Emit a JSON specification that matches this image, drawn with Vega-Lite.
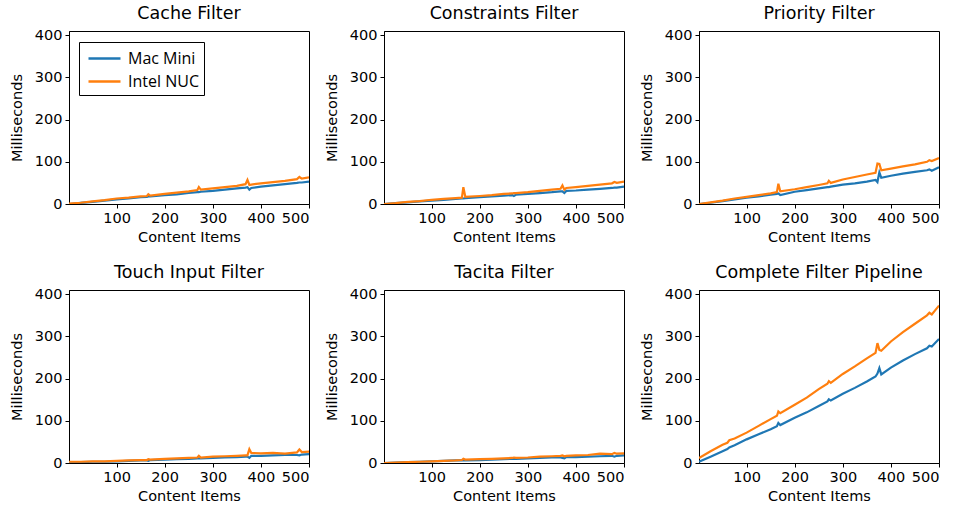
{
  "$schema": "https://vega.github.io/schema/vega-lite/v6.json",
  "padding": {"left": 8, "top": 4, "right": 5, "bottom": 5},
  "datasets": {
    "d": [
      {"panel":"Cache Filter","x":1,"Mac Mini":0,"Intel NUC":1},
      {"panel":"Cache Filter","x":25,"Mac Mini":2.5,"Intel NUC":3},
      {"panel":"Cache Filter","x":50,"Mac Mini":5,"Intel NUC":6},
      {"panel":"Cache Filter","x":75,"Mac Mini":8,"Intel NUC":9},
      {"panel":"Cache Filter","x":100,"Mac Mini":11,"Intel NUC":13},
      {"panel":"Cache Filter","x":125,"Mac Mini":13,"Intel NUC":15},
      {"panel":"Cache Filter","x":150,"Mac Mini":16,"Intel NUC":18},
      {"panel":"Cache Filter","x":163,"Mac Mini":17,"Intel NUC":19},
      {"panel":"Cache Filter","x":166,"Mac Mini":18,"Intel NUC":23},
      {"panel":"Cache Filter","x":170,"Mac Mini":18,"Intel NUC":20},
      {"panel":"Cache Filter","x":200,"Mac Mini":21,"Intel NUC":24},
      {"panel":"Cache Filter","x":225,"Mac Mini":23,"Intel NUC":27},
      {"panel":"Cache Filter","x":250,"Mac Mini":26,"Intel NUC":30},
      {"panel":"Cache Filter","x":268,"Mac Mini":28,"Intel NUC":33},
      {"panel":"Cache Filter","x":271,"Mac Mini":28,"Intel NUC":40},
      {"panel":"Cache Filter","x":275,"Mac Mini":29,"Intel NUC":34},
      {"panel":"Cache Filter","x":300,"Mac Mini":31,"Intel NUC":37},
      {"panel":"Cache Filter","x":325,"Mac Mini":34,"Intel NUC":40},
      {"panel":"Cache Filter","x":350,"Mac Mini":37,"Intel NUC":43},
      {"panel":"Cache Filter","x":368,"Mac Mini":39,"Intel NUC":47},
      {"panel":"Cache Filter","x":372,"Mac Mini":40,"Intel NUC":57},
      {"panel":"Cache Filter","x":376,"Mac Mini":34,"Intel NUC":45},
      {"panel":"Cache Filter","x":380,"Mac Mini":38,"Intel NUC":46},
      {"panel":"Cache Filter","x":400,"Mac Mini":41,"Intel NUC":49},
      {"panel":"Cache Filter","x":425,"Mac Mini":44,"Intel NUC":52},
      {"panel":"Cache Filter","x":450,"Mac Mini":47,"Intel NUC":55},
      {"panel":"Cache Filter","x":475,"Mac Mini":50,"Intel NUC":59},
      {"panel":"Cache Filter","x":480,"Mac Mini":51,"Intel NUC":64},
      {"panel":"Cache Filter","x":485,"Mac Mini":51,"Intel NUC":60},
      {"panel":"Cache Filter","x":500,"Mac Mini":53,"Intel NUC":63},

      {"panel":"Constraints Filter","x":1,"Mac Mini":0,"Intel NUC":0},
      {"panel":"Constraints Filter","x":25,"Mac Mini":2,"Intel NUC":2},
      {"panel":"Constraints Filter","x":50,"Mac Mini":4,"Intel NUC":5},
      {"panel":"Constraints Filter","x":75,"Mac Mini":6,"Intel NUC":7},
      {"panel":"Constraints Filter","x":100,"Mac Mini":8,"Intel NUC":10},
      {"panel":"Constraints Filter","x":125,"Mac Mini":10,"Intel NUC":12},
      {"panel":"Constraints Filter","x":150,"Mac Mini":12,"Intel NUC":14},
      {"panel":"Constraints Filter","x":163,"Mac Mini":13,"Intel NUC":15},
      {"panel":"Constraints Filter","x":166,"Mac Mini":13,"Intel NUC":40},
      {"panel":"Constraints Filter","x":170,"Mac Mini":14,"Intel NUC":17},
      {"panel":"Constraints Filter","x":200,"Mac Mini":16,"Intel NUC":19},
      {"panel":"Constraints Filter","x":225,"Mac Mini":18,"Intel NUC":21},
      {"panel":"Constraints Filter","x":250,"Mac Mini":20,"Intel NUC":24},
      {"panel":"Constraints Filter","x":268,"Mac Mini":21,"Intel NUC":25},
      {"panel":"Constraints Filter","x":271,"Mac Mini":19,"Intel NUC":26},
      {"panel":"Constraints Filter","x":275,"Mac Mini":22,"Intel NUC":26},
      {"panel":"Constraints Filter","x":300,"Mac Mini":24,"Intel NUC":28},
      {"panel":"Constraints Filter","x":325,"Mac Mini":26,"Intel NUC":31},
      {"panel":"Constraints Filter","x":350,"Mac Mini":28,"Intel NUC":34},
      {"panel":"Constraints Filter","x":368,"Mac Mini":30,"Intel NUC":36},
      {"panel":"Constraints Filter","x":372,"Mac Mini":30,"Intel NUC":44},
      {"panel":"Constraints Filter","x":376,"Mac Mini":26,"Intel NUC":34},
      {"panel":"Constraints Filter","x":380,"Mac Mini":31,"Intel NUC":38},
      {"panel":"Constraints Filter","x":400,"Mac Mini":32,"Intel NUC":40},
      {"panel":"Constraints Filter","x":425,"Mac Mini":34,"Intel NUC":43},
      {"panel":"Constraints Filter","x":450,"Mac Mini":36,"Intel NUC":46},
      {"panel":"Constraints Filter","x":475,"Mac Mini":38,"Intel NUC":49},
      {"panel":"Constraints Filter","x":480,"Mac Mini":39,"Intel NUC":52},
      {"panel":"Constraints Filter","x":485,"Mac Mini":39,"Intel NUC":50},
      {"panel":"Constraints Filter","x":500,"Mac Mini":41,"Intel NUC":53},

      {"panel":"Priority Filter","x":1,"Mac Mini":0,"Intel NUC":0},
      {"panel":"Priority Filter","x":25,"Mac Mini":3,"Intel NUC":4},
      {"panel":"Priority Filter","x":50,"Mac Mini":7,"Intel NUC":8},
      {"panel":"Priority Filter","x":75,"Mac Mini":11,"Intel NUC":13},
      {"panel":"Priority Filter","x":100,"Mac Mini":15,"Intel NUC":17},
      {"panel":"Priority Filter","x":125,"Mac Mini":18,"Intel NUC":21},
      {"panel":"Priority Filter","x":150,"Mac Mini":22,"Intel NUC":25},
      {"panel":"Priority Filter","x":163,"Mac Mini":24,"Intel NUC":28},
      {"panel":"Priority Filter","x":166,"Mac Mini":25,"Intel NUC":48},
      {"panel":"Priority Filter","x":170,"Mac Mini":21,"Intel NUC":30},
      {"panel":"Priority Filter","x":200,"Mac Mini":29,"Intel NUC":35},
      {"panel":"Priority Filter","x":225,"Mac Mini":33,"Intel NUC":40},
      {"panel":"Priority Filter","x":250,"Mac Mini":37,"Intel NUC":45},
      {"panel":"Priority Filter","x":268,"Mac Mini":40,"Intel NUC":49},
      {"panel":"Priority Filter","x":271,"Mac Mini":40,"Intel NUC":55},
      {"panel":"Priority Filter","x":275,"Mac Mini":41,"Intel NUC":50},
      {"panel":"Priority Filter","x":300,"Mac Mini":46,"Intel NUC":58},
      {"panel":"Priority Filter","x":325,"Mac Mini":49,"Intel NUC":64},
      {"panel":"Priority Filter","x":350,"Mac Mini":53,"Intel NUC":70},
      {"panel":"Priority Filter","x":368,"Mac Mini":57,"Intel NUC":74},
      {"panel":"Priority Filter","x":372,"Mac Mini":52,"Intel NUC":96},
      {"panel":"Priority Filter","x":376,"Mac Mini":75,"Intel NUC":95},
      {"panel":"Priority Filter","x":380,"Mac Mini":62,"Intel NUC":80},
      {"panel":"Priority Filter","x":400,"Mac Mini":67,"Intel NUC":84},
      {"panel":"Priority Filter","x":425,"Mac Mini":72,"Intel NUC":89},
      {"panel":"Priority Filter","x":450,"Mac Mini":76,"Intel NUC":94},
      {"panel":"Priority Filter","x":475,"Mac Mini":80,"Intel NUC":100},
      {"panel":"Priority Filter","x":480,"Mac Mini":82,"Intel NUC":104},
      {"panel":"Priority Filter","x":485,"Mac Mini":79,"Intel NUC":102},
      {"panel":"Priority Filter","x":500,"Mac Mini":87,"Intel NUC":109},

      {"panel":"Touch Input Filter","x":1,"Mac Mini":2,"Intel NUC":3},
      {"panel":"Touch Input Filter","x":25,"Mac Mini":2,"Intel NUC":3},
      {"panel":"Touch Input Filter","x":50,"Mac Mini":3,"Intel NUC":4},
      {"panel":"Touch Input Filter","x":75,"Mac Mini":3,"Intel NUC":4},
      {"panel":"Touch Input Filter","x":100,"Mac Mini":4,"Intel NUC":5},
      {"panel":"Touch Input Filter","x":125,"Mac Mini":5,"Intel NUC":6},
      {"panel":"Touch Input Filter","x":150,"Mac Mini":6,"Intel NUC":7},
      {"panel":"Touch Input Filter","x":163,"Mac Mini":6,"Intel NUC":7},
      {"panel":"Touch Input Filter","x":166,"Mac Mini":5,"Intel NUC":9},
      {"panel":"Touch Input Filter","x":170,"Mac Mini":7,"Intel NUC":8},
      {"panel":"Touch Input Filter","x":200,"Mac Mini":8,"Intel NUC":10},
      {"panel":"Touch Input Filter","x":225,"Mac Mini":9,"Intel NUC":11},
      {"panel":"Touch Input Filter","x":250,"Mac Mini":10,"Intel NUC":12},
      {"panel":"Touch Input Filter","x":268,"Mac Mini":11,"Intel NUC":13},
      {"panel":"Touch Input Filter","x":271,"Mac Mini":11,"Intel NUC":17},
      {"panel":"Touch Input Filter","x":275,"Mac Mini":11,"Intel NUC":13},
      {"panel":"Touch Input Filter","x":300,"Mac Mini":12,"Intel NUC":15},
      {"panel":"Touch Input Filter","x":325,"Mac Mini":13,"Intel NUC":16},
      {"panel":"Touch Input Filter","x":350,"Mac Mini":14,"Intel NUC":17},
      {"panel":"Touch Input Filter","x":368,"Mac Mini":15,"Intel NUC":18},
      {"panel":"Touch Input Filter","x":372,"Mac Mini":15,"Intel NUC":18},
      {"panel":"Touch Input Filter","x":376,"Mac Mini":12,"Intel NUC":33},
      {"panel":"Touch Input Filter","x":380,"Mac Mini":17,"Intel NUC":24},
      {"panel":"Touch Input Filter","x":400,"Mac Mini":17,"Intel NUC":23},
      {"panel":"Touch Input Filter","x":425,"Mac Mini":18,"Intel NUC":24},
      {"panel":"Touch Input Filter","x":450,"Mac Mini":19,"Intel NUC":22},
      {"panel":"Touch Input Filter","x":475,"Mac Mini":19,"Intel NUC":25},
      {"panel":"Touch Input Filter","x":480,"Mac Mini":18,"Intel NUC":32},
      {"panel":"Touch Input Filter","x":485,"Mac Mini":20,"Intel NUC":26},
      {"panel":"Touch Input Filter","x":500,"Mac Mini":21,"Intel NUC":27},

      {"panel":"Tacita Filter","x":1,"Mac Mini":0,"Intel NUC":0},
      {"panel":"Tacita Filter","x":25,"Mac Mini":1,"Intel NUC":1},
      {"panel":"Tacita Filter","x":50,"Mac Mini":2,"Intel NUC":2},
      {"panel":"Tacita Filter","x":75,"Mac Mini":3,"Intel NUC":3},
      {"panel":"Tacita Filter","x":100,"Mac Mini":4,"Intel NUC":4},
      {"panel":"Tacita Filter","x":125,"Mac Mini":5,"Intel NUC":5},
      {"panel":"Tacita Filter","x":150,"Mac Mini":6,"Intel NUC":6},
      {"panel":"Tacita Filter","x":163,"Mac Mini":6,"Intel NUC":7},
      {"panel":"Tacita Filter","x":166,"Mac Mini":6,"Intel NUC":10},
      {"panel":"Tacita Filter","x":170,"Mac Mini":6,"Intel NUC":8},
      {"panel":"Tacita Filter","x":200,"Mac Mini":7,"Intel NUC":9},
      {"panel":"Tacita Filter","x":225,"Mac Mini":8,"Intel NUC":10},
      {"panel":"Tacita Filter","x":250,"Mac Mini":9,"Intel NUC":11},
      {"panel":"Tacita Filter","x":268,"Mac Mini":10,"Intel NUC":12},
      {"panel":"Tacita Filter","x":271,"Mac Mini":10,"Intel NUC":13},
      {"panel":"Tacita Filter","x":275,"Mac Mini":10,"Intel NUC":12},
      {"panel":"Tacita Filter","x":300,"Mac Mini":11,"Intel NUC":13},
      {"panel":"Tacita Filter","x":325,"Mac Mini":12,"Intel NUC":15},
      {"panel":"Tacita Filter","x":350,"Mac Mini":13,"Intel NUC":16},
      {"panel":"Tacita Filter","x":368,"Mac Mini":13,"Intel NUC":17},
      {"panel":"Tacita Filter","x":372,"Mac Mini":12,"Intel NUC":18},
      {"panel":"Tacita Filter","x":376,"Mac Mini":11,"Intel NUC":16},
      {"panel":"Tacita Filter","x":380,"Mac Mini":14,"Intel NUC":17},
      {"panel":"Tacita Filter","x":400,"Mac Mini":14,"Intel NUC":18},
      {"panel":"Tacita Filter","x":425,"Mac Mini":15,"Intel NUC":19},
      {"panel":"Tacita Filter","x":450,"Mac Mini":16,"Intel NUC":22},
      {"panel":"Tacita Filter","x":475,"Mac Mini":17,"Intel NUC":21},
      {"panel":"Tacita Filter","x":480,"Mac Mini":15,"Intel NUC":24},
      {"panel":"Tacita Filter","x":485,"Mac Mini":17,"Intel NUC":22},
      {"panel":"Tacita Filter","x":500,"Mac Mini":18,"Intel NUC":23},

      {"panel":"Complete Filter Pipeline","x":1,"Mac Mini":3,"Intel NUC":12},
      {"panel":"Complete Filter Pipeline","x":25,"Mac Mini":15,"Intel NUC":28},
      {"panel":"Complete Filter Pipeline","x":50,"Mac Mini":28,"Intel NUC":43},
      {"panel":"Complete Filter Pipeline","x":60,"Mac Mini":33,"Intel NUC":48},
      {"panel":"Complete Filter Pipeline","x":64,"Mac Mini":37,"Intel NUC":54},
      {"panel":"Complete Filter Pipeline","x":75,"Mac Mini":42,"Intel NUC":58},
      {"panel":"Complete Filter Pipeline","x":100,"Mac Mini":56,"Intel NUC":72},
      {"panel":"Complete Filter Pipeline","x":125,"Mac Mini":68,"Intel NUC":88},
      {"panel":"Complete Filter Pipeline","x":150,"Mac Mini":80,"Intel NUC":104},
      {"panel":"Complete Filter Pipeline","x":163,"Mac Mini":87,"Intel NUC":112},
      {"panel":"Complete Filter Pipeline","x":166,"Mac Mini":95,"Intel NUC":122},
      {"panel":"Complete Filter Pipeline","x":170,"Mac Mini":90,"Intel NUC":118},
      {"panel":"Complete Filter Pipeline","x":200,"Mac Mini":107,"Intel NUC":138},
      {"panel":"Complete Filter Pipeline","x":225,"Mac Mini":120,"Intel NUC":155},
      {"panel":"Complete Filter Pipeline","x":250,"Mac Mini":135,"Intel NUC":175},
      {"panel":"Complete Filter Pipeline","x":268,"Mac Mini":146,"Intel NUC":188},
      {"panel":"Complete Filter Pipeline","x":271,"Mac Mini":151,"Intel NUC":194},
      {"panel":"Complete Filter Pipeline","x":275,"Mac Mini":148,"Intel NUC":190},
      {"panel":"Complete Filter Pipeline","x":300,"Mac Mini":164,"Intel NUC":211},
      {"panel":"Complete Filter Pipeline","x":325,"Mac Mini":178,"Intel NUC":229},
      {"panel":"Complete Filter Pipeline","x":350,"Mac Mini":193,"Intel NUC":248},
      {"panel":"Complete Filter Pipeline","x":368,"Mac Mini":205,"Intel NUC":261},
      {"panel":"Complete Filter Pipeline","x":372,"Mac Mini":212,"Intel NUC":284},
      {"panel":"Complete Filter Pipeline","x":376,"Mac Mini":225,"Intel NUC":268},
      {"panel":"Complete Filter Pipeline","x":380,"Mac Mini":210,"Intel NUC":266},
      {"panel":"Complete Filter Pipeline","x":400,"Mac Mini":226,"Intel NUC":288},
      {"panel":"Complete Filter Pipeline","x":425,"Mac Mini":243,"Intel NUC":310},
      {"panel":"Complete Filter Pipeline","x":450,"Mac Mini":258,"Intel NUC":330},
      {"panel":"Complete Filter Pipeline","x":475,"Mac Mini":272,"Intel NUC":350},
      {"panel":"Complete Filter Pipeline","x":480,"Mac Mini":278,"Intel NUC":356},
      {"panel":"Complete Filter Pipeline","x":485,"Mac Mini":276,"Intel NUC":352},
      {"panel":"Complete Filter Pipeline","x":500,"Mac Mini":294,"Intel NUC":373}
    ]
  },
  "data": {"name": "d"},
  "transform": [{"fold": ["Mac Mini", "Intel NUC"], "as": ["device", "ms"]}],
  "facet": {
    "field": "panel",
    "type": "nominal",
    "sort": ["Cache Filter", "Constraints Filter", "Priority Filter", "Touch Input Filter", "Tacita Filter", "Complete Filter Pipeline"],
    "header": {"title": null, "labelFont": "DejaVu Sans", "labelFontSize": 17.5, "labelColor": "black", "labelPadding": 5}
  },
  "columns": 3,
  "spacing": {"row": 86, "column": 75},
  "bounds": "flush",
  "resolve": {"axis": {"x": "independent", "y": "independent"}},
  "spec": {
    "width": 240,
    "height": 173,
    "mark": {"type": "line", "strokeWidth": 2.2, "clip": true},
    "encoding": {
      "x": {"field": "x", "type": "quantitative", "scale": {"domain": [1, 500], "nice": false, "zero": false}, "axis": {"values": [100, 200, 300, 400, 500], "title": "Content Items", "titlePadding": 6}},
      "y": {"field": "ms", "type": "quantitative", "scale": {"domain": [0, 410], "nice": false}, "axis": {"values": [0, 100, 200, 300, 400], "title": "Milliseconds", "titlePadding": 10}},
      "color": {
        "field": "device", "type": "nominal",
        "scale": {"domain": ["Mac Mini", "Intel NUC"], "range": ["#1f77b4", "#ff7f0e"]},
        "legend": {"title": null, "orient": "none", "legendX": 10, "legendY": 11, "symbolType": "M-1.6,0H1.6", "symbolSize": 400, "symbolStrokeWidth": 2.5, "symbolOffset": 9, "labelFont": "Open Sans", "labelFontSize": 16, "labelColor": "black", "strokeColor": "black", "fillColor": "white", "padding": 5, "cornerRadius": 0, "rowPadding": 3, "labelOffset": 12}
      }
    }
  },
  "config": {
    "view": {"stroke": "black", "strokeWidth": 1},
    "axis": {"grid": false, "domainColor": "black", "tickColor": "black", "tickSize": 4, "labelFont": "DejaVu Sans", "labelFontSize": 14.5, "labelColor": "black", "labelPadding": 3, "titleFont": "DejaVu Sans", "titleFontSize": 14.5, "titleFontWeight": "normal", "titleColor": "black"}
  }
}
